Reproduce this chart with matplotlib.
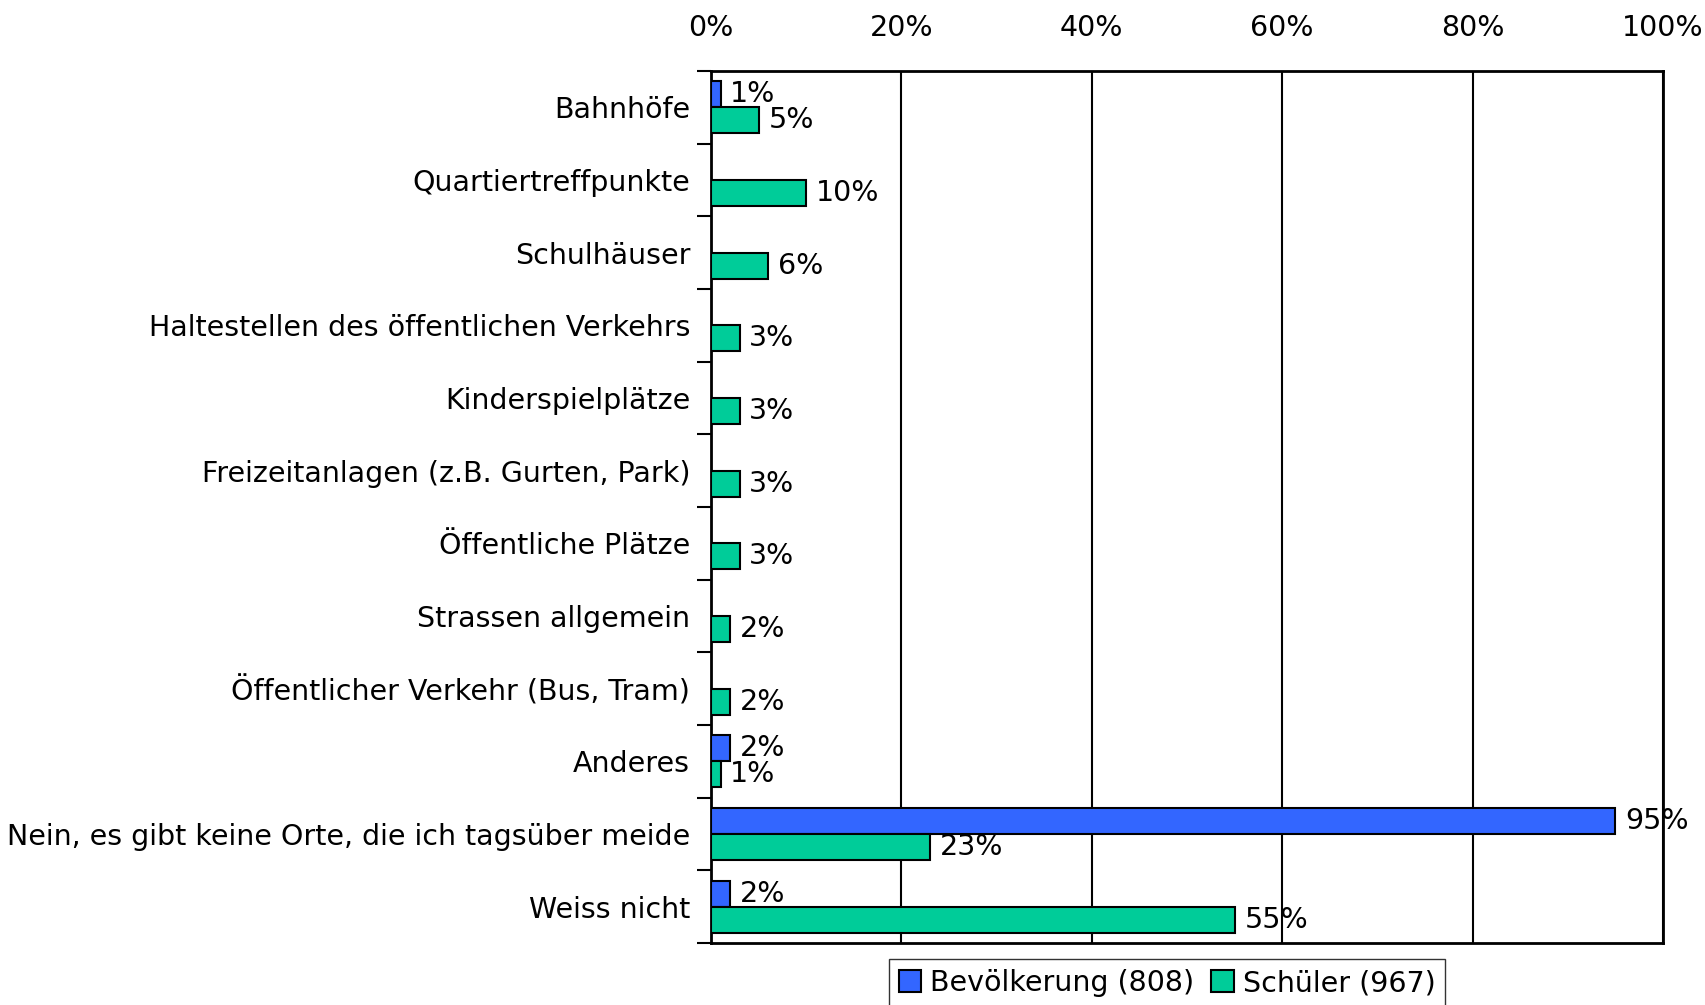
import numpy as np
import matplotlib
matplotlib.use('Agg')
import matplotlib.pyplot as plt
from matplotlib.ticker import FixedLocator, PercentFormatter

categories = ['Bahnhöfe', 'Quartiertreffpunkte', 'Schulhäuser',
              'Haltestellen des öffentlichen Verkehrs', 'Kinderspielplätze',
              'Freizeitanlagen (z.B. Gurten, Park)', 'Öffentliche Plätze',
              'Strassen allgemein', 'Öffentlicher Verkehr (Bus, Tram)',
              'Anderes', 'Nein, es gibt keine Orte, die ich tagsüber meide',
              'Weiss nicht']
# None = no answer shown for that group
bevoelkerung = [1, None, None, None, None, None, None, None, None, 2, 95, 2]
schueler = [5, 10, 6, 3, 3, 3, 3, 2, 2, 1, 23, 55]
series_names = ['Bevölkerung (808)', 'Schüler (967)']
colors = ['#3366FF', '#00CC99']

plt.rcParams['font.family'] = ['DejaVu Sans']
fs = 20.5

fig = plt.figure(figsize=(17.05, 10.05), dpi=100)
ax = fig.add_axes([711/1705, 1 - 943/1005, 952/1705, 872/1005])

y = np.arange(len(categories))
h = 0.36
for vals, off, col, name in [(bevoelkerung, -h/2, colors[0], series_names[0]),
                             (schueler, h/2, colors[1], series_names[1])]:
    idx = [i for i, v in enumerate(vals) if v is not None]
    v = [vals[i] for i in idx]
    bars = ax.barh(y[idx] + off, v, height=h, color=col, edgecolor='black',
                   linewidth=1.5, label=name, zorder=3)
    ax.bar_label(bars, labels=['{}%'.format(x) for x in v], padding=7,
                 fontsize=fs, zorder=4)

ax.set_xlim(0, 100)
ax.set_ylim(len(categories) - 0.5, -0.5)
ax.xaxis.tick_top()
ax.set_xticks(np.arange(0, 101, 20))
ax.xaxis.set_major_formatter(PercentFormatter(100, decimals=0))
ax.tick_params(axis='x', length=0, pad=21, labelsize=fs)
ax.grid(axis='x', color='black', linewidth=1.5, zorder=1)

ax.set_yticks(y)
ax.set_yticklabels(categories)
ax.yaxis.set_minor_locator(FixedLocator(np.arange(-0.5, len(categories), 1)))
ax.tick_params(axis='y', which='major', length=0, pad=15, labelsize=fs)
ax.tick_params(axis='y', which='minor', length=10, width=1.5)
for s in ax.spines.values():
    s.set_linewidth(2)

fig.legend(loc='upper center', bbox_to_anchor=(1167/1705, 1 - 945/1005),
           ncol=2, fontsize=fs, frameon=True, fancybox=False, edgecolor='black',
           handlelength=0.8, handleheight=0.8, handletextpad=0.3,
           columnspacing=0.6, borderpad=0.35)

fig.savefig('out.png', dpi=100)
